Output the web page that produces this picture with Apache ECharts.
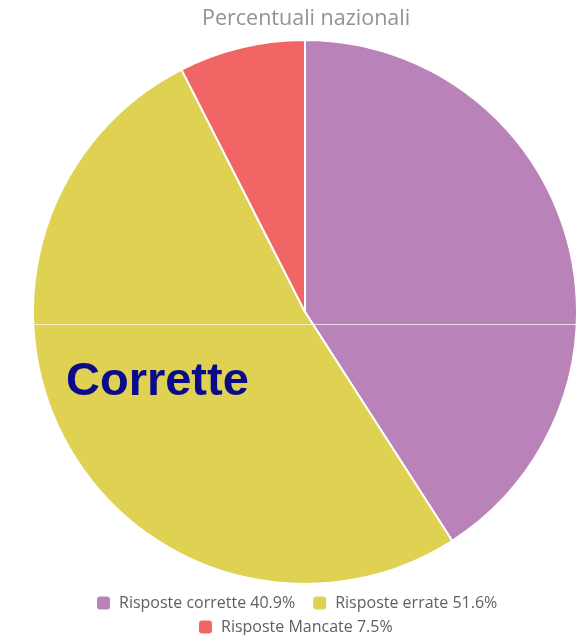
<!DOCTYPE html>
<html>
<head>
<meta charset="utf-8">
<script src="https://cdn.jsdelivr.net/npm/echarts@6/dist/echarts.min.js"></script>
<style>
  html, body { margin: 0; padding: 0; background: #fff; }
  #chart { width: 581px; height: 635px; }
</style>
</head>
<body>
<div id="chart"></div>
<script>
// National answer breakdown
const categories = ['Risposte corrette', 'Risposte errate', 'Risposte Mancate'];
const values = [40.9, 51.6, 7.5];
const colors = ['#b982b9', '#dfd151', '#f16665'];

const chart = echarts.init(document.getElementById('chart'), null, { renderer: 'canvas' });

const pieData = categories.map((name, i) => ({
  name: name,
  value: values[i],
  itemStyle: { color: colors[i] }
}));

const legendBase = {
  orient: 'horizontal',
  icon: 'roundRect',
  itemWidth: 13,
  itemHeight: 13,
  itemGap: 18,
  itemStyle: { borderWidth: 0 },
  textStyle: { fontFamily: 'Open Sans', fontSize: 16, color: '#606060', padding: [0, 0, 0, 4] },
  formatter: name => name + ' ' + values[categories.indexOf(name)] + '%'
};

chart.setOption({
  animation: false,
  title: {
    text: 'Percentuali nazionali',
    left: 197,
    top: 3,
    textStyle: { fontFamily: 'Open Sans', fontWeight: 'normal', fontSize: 21.5, color: '#929292' }
  },
  legend: [
    Object.assign({}, legendBase, { left: 92, top: 590, data: categories.slice(0, 2) }),
    Object.assign({}, legendBase, { left: 194, top: 614, data: categories.slice(2) })
  ],
  series: [{
    type: 'pie',
    center: [305, 312],
    radius: 272,
    startAngle: 90,
    clockwise: true,
    label: { show: false },
    labelLine: { show: false },
    emphasis: { disabled: true },
    itemStyle: { borderColor: '#fff', borderWidth: 2 },
    data: pieData
  }],
  graphic: [
    {
      type: 'line',
      shape: { x1: 26, y1: 324.5, x2: 581, y2: 324.5 },
      style: { stroke: 'rgba(255,255,255,0.7)', lineWidth: 1 },
      z: 10
    },
    {
      type: 'text',
      left: 66,
      top: 359,
      style: {
        text: 'Corrette',
        fontFamily: 'Liberation Sans',
        fontWeight: 'bold',
        fontSize: 47,
        fill: '#0a0a8c'
      },
      z: 10
    }
  ]
});
</script>
</body>
</html>
